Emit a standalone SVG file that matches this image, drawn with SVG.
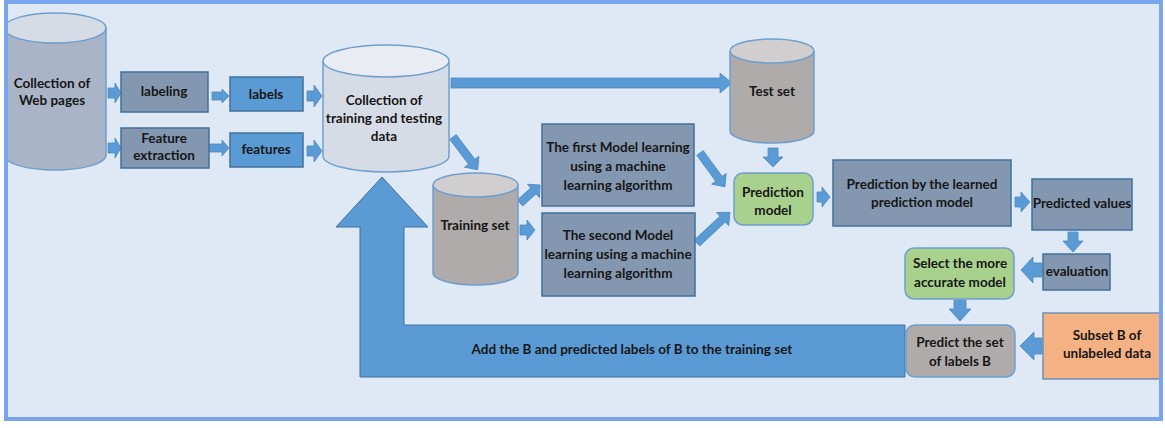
<svg xmlns="http://www.w3.org/2000/svg" width="1165" height="428" viewBox="0 0 1165 428">
<style>
text{font-family:"Lato","Liberation Sans",sans-serif;font-weight:bold;font-size:13.5px;fill:#161616;text-anchor:middle}
.gb{fill:#8497b0;stroke:#41719c;stroke-width:1.5}
.bb{fill:#5b9bd5;stroke:#41719c;stroke-width:1.5}
.gr{fill:#a9d18e;stroke:#6e9fcf;stroke-width:1.5}
.gy{fill:#afabab;stroke:#6e9fcf;stroke-width:1.5}
.or{fill:#f4b183;stroke:#6e8fb8;stroke-width:1.5}
.ar{fill:#5b9bd5;stroke:#4f88c0;stroke-width:0.8}
.cs{stroke:#6e9fcf;stroke-width:1.5}
</style>
<defs>
<clipPath id="frameclip"><rect x="8" y="4" width="1151" height="413"/></clipPath>
</defs>
<rect x="0" y="0" width="1165" height="428" fill="#ffffff"/>
<rect x="6" y="2" width="1155" height="417" fill="#dee9f5"/>
<g clip-path="url(#frameclip)">
<g id="web-pages">
<path class="cs" d="M4,28 V155 A51,15 0 0 0 106,155 V28" fill="#a9b5c6"/>
<ellipse class="cs" cx="55" cy="28" rx="51" ry="15" fill="#d6dce5"/>
<text x="52" y="88">Collection of</text>
<text x="52" y="105">Web pages</text>
</g>
<g id="subset-b">
<rect class="or" x="1043" y="313" width="125" height="66"/>
<text x="1107" y="340">Subset B of</text>
<text x="1107" y="358">unlabeled data</text>
</g>
</g>
<rect x="6" y="2" width="1155" height="417" fill="none" stroke="#78a6ee" stroke-width="4"/>

<g id="connectors">
<polygon class="ar" points="108,88 115,88 115,83 121,93 115,103 115,98 108,98"/>
<polygon class="ar" points="108,143 115,143 115,138 121,148 115,158 115,153 108,153"/>
<polygon class="ar" points="212,92 222,92 222,89 229,96 222,103 222,100 212,100"/>
<polygon class="ar" points="209,144 222,144 222,140 229,148 222,156 222,152 209,152"/>
<polygon class="ar" points="307,91 314,91 314,85 322,96 314,107 314,101 307,101"/>
<polygon class="ar" points="307,146 314,146 314,140 322,151 314,162 314,156 307,156"/>
<polygon class="ar" points="451,78 720,78 720,73 732,83 720,93 720,88 451,88"/>
<polygon class="ar" transform="translate(453,137) rotate(52.9)" points="0,-4 31,-4 31,-9 41,0 31,9 31,4 0,4"/>
<polygon class="ar" transform="translate(520,203) rotate(-42)" points="0,-4 18,-4 18,-9 27,0 18,9 18,4 0,4"/>
<polygon class="ar" points="520,225 527,225 527,220 535,230 527,240 527,235 520,235"/>
<polygon class="ar" transform="translate(700,153) rotate(53.7)" points="0,-4 32,-4 32,-9 42,0 32,9 32,4 0,4"/>
<polygon class="ar" transform="translate(697,243) rotate(-43)" points="0,-4 35,-4 35,-9 45,0 35,9 35,4 0,4"/>
<polygon class="ar" points="768,148 778,148 778,157 783,157 773,167 763,157 768,157"/>
<polygon class="ar" points="817,192 822,192 822,187 830,197 822,207 822,202 817,202"/>
<polygon class="ar" points="1015,197 1021,197 1021,192 1030,202 1021,212 1021,207 1015,207"/>
<polygon class="ar" points="1068,232 1078,232 1078,241 1083,241 1073,252 1063,241 1068,241"/>
<polygon class="ar" points="1042,263 1033,263 1033,257 1021,270 1033,283 1033,277 1042,277"/>
<polygon class="ar" points="954,300 966,300 966,309 971,309 960,321 949,309 954,309"/>
<polygon class="ar" points="1042,338 1034,338 1034,332 1020,346 1034,360 1034,354 1042,354"/>
<polygon fill="#5b9bd5" stroke="#41719c" stroke-width="1" points="905,325 404,325 404,227 428,227 382,177 336,227 360,227 360,377 905,377"/>
<text x="632" y="354">Add the B and predicted labels of B to the training set</text>
</g>

<g id="labeling">
<rect class="gb" x="121" y="72" width="87" height="40"/>
<text x="164" y="96">labeling</text>
</g>
<g id="feature-extraction">
<rect class="gb" x="121" y="128" width="88" height="40"/>
<text x="164" y="143">Feature</text>
<text x="164" y="160">extraction</text>
</g>
<g id="labels">
<rect class="bb" x="230" y="77" width="73" height="34"/>
<text x="266" y="99">labels</text>
</g>
<g id="features">
<rect class="bb" x="230" y="133" width="73" height="34"/>
<text x="266" y="154">features</text>
</g>
<g id="collection-data">
<path class="cs" d="M323,61 V156 A63,16 0 0 0 449,156 V61" fill="#d6dce5"/>
<ellipse class="cs" cx="386" cy="61" rx="63" ry="16" fill="#e9edf3"/>
<text x="384" y="105">Collection of</text>
<text x="384" y="123">training and testing</text>
<text x="384" y="141">data</text>
</g>
<g id="test-set">
<path class="cs" d="M730,51 V131 A42,12 0 0 0 814,131 V51" fill="#afabab"/>
<ellipse class="cs" cx="772" cy="51" rx="42" ry="12" fill="#d0cece"/>
<text x="772" y="96">Test set</text>
</g>
<g id="training-set">
<path class="cs" d="M433,185 V273 A42.5,12 0 0 0 518,273 V185" fill="#afabab"/>
<ellipse class="cs" cx="475.5" cy="185" rx="42.5" ry="12" fill="#d0cece"/>
<text x="475" y="230">Training set</text>
</g>
<g id="first-model">
<rect class="gb" x="542" y="124" width="152" height="82"/>
<text x="618" y="152">The first Model learning</text>
<text x="618" y="171">using a machine</text>
<text x="618" y="190">learning algorithm</text>
</g>
<g id="second-model">
<rect class="gb" x="542" y="213" width="153" height="83"/>
<text x="618" y="240">The second Model</text>
<text x="618" y="259">learning using a machine</text>
<text x="618" y="278">learning algorithm</text>
</g>
<g id="prediction-model">
<rect class="gr" x="734" y="173" width="79" height="52" rx="9"/>
<text x="773" y="197">Prediction</text>
<text x="773" y="215">model</text>
</g>
<g id="prediction-learned">
<rect class="gb" x="833" y="160" width="178" height="66"/>
<text x="922" y="189">Prediction by the learned</text>
<text x="922" y="207">prediction model</text>
</g>
<g id="predicted-values">
<rect class="gb" x="1032" y="179" width="100" height="51"/>
<text x="1082" y="208">Predicted values</text>
</g>
<g id="evaluation">
<rect class="gb" x="1043" y="254" width="67" height="36"/>
<text x="1077" y="276">evaluation</text>
</g>
<g id="select-model">
<rect class="gr" x="905" y="248" width="109" height="51" rx="9"/>
<text x="960" y="268">Select the more</text>
<text x="960" y="287">accurate model</text>
</g>
<g id="predict-labels">
<rect class="gy" x="906" y="325" width="109" height="52" rx="9"/>
<text x="960" y="347">Predict the set</text>
<text x="960" y="366">of labels B</text>
</g>
</svg>
